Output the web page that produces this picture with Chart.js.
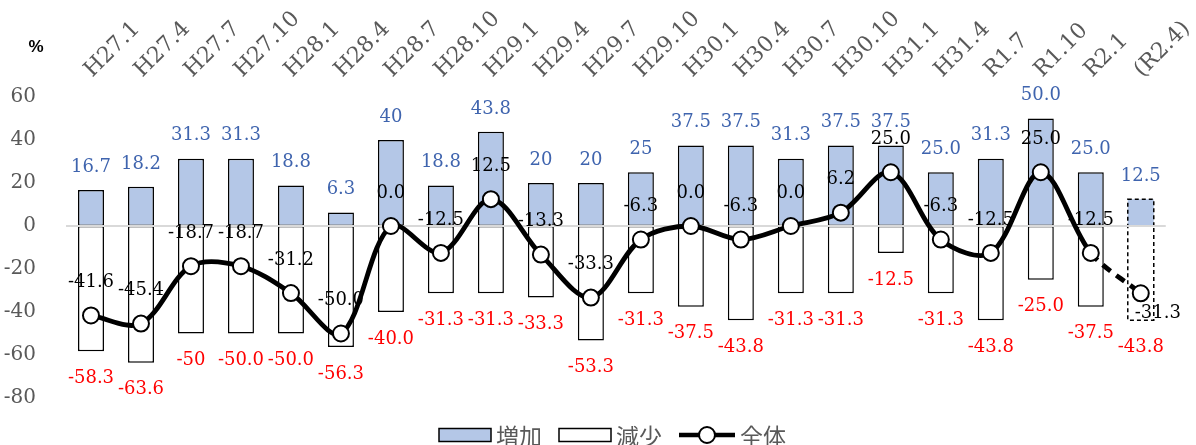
<!DOCTYPE html>
<html>
<head>
<meta charset="utf-8">
<script src="https://cdn.jsdelivr.net/npm/chart.js@4.4.0/dist/chart.umd.min.js"></script>
<style>
  html, body { margin: 0; padding: 0; background: #fff; }
  #wrap { width: 1196px; height: 445px; }
</style>
</head>
<body>
<div id="wrap"><canvas id="c" width="1196" height="445"></canvas></div>
<script>
// Survey periods (quarter of each year)
const periods = ['H27.1','H27.4','H27.7','H27.10','H28.1','H28.4','H28.7','H28.10','H29.1','H29.4','H29.7','H29.10',
                 'H30.1','H30.4','H30.7','H30.10','H31.1','H31.4','R1.7','R1.10','R2.1','(R2.4)'];

// Share of answers, as printed on each mark
const increaseText = ['16.7','18.2','31.3','31.3','18.8','6.3','40','18.8','43.8','20','20','25',
                      '37.5','37.5','31.3','37.5','37.5','25.0','31.3','50.0','25.0','12.5'];
const decreaseText = ['-58.3','-63.6','-50','-50.0','-50.0','-56.3','-40.0','-31.3','-31.3','-33.3','-53.3','-31.3',
                      '-37.5','-43.8','-31.3','-31.3','-12.5','-31.3','-43.8','-25.0','-37.5','-43.8'];
const totalText    = ['-41.6','-45.4','-18.7','-18.7','-31.2','-50.0','0.0','-12.5','12.5','-13.3','-33.3','-6.3',
                      '0.0','-6.3','0.0','6.2','25.0','-6.3','-12.5','25.0','-12.5','-31.3'];

const increase = increaseText.map(Number);
const decrease = decreaseText.map(Number);
const total    = totalText.map(Number);

// Value axis range
const yMin = -80, yMax = 60, yStep = 20;

const seriesNames = ['増加', '減少', '全体'];
const forecastIndex = periods.length - 1;   // last period is a forecast

const SERIF = '"DejaVu Serif", "Liberation Serif", serif';
const INC_FILL = '#B4C7E7';

// Zero line sits above the bars but below the total line
const zeroLinePlugin = {
  id: 'zeroLine',
  beforeDatasetDraw(chart, args) {
    if (args.meta.type !== 'line') return;
    const { ctx, chartArea } = chart;
    const y0 = chart.scales.y.getPixelForValue(0);
    ctx.save();
    ctx.strokeStyle = '#D9D9D9';
    ctx.lineWidth = 2;
    ctx.beginPath();
    ctx.moveTo(chartArea.left, y0);
    ctx.lineTo(chartArea.right, y0);
    ctx.stroke();
    ctx.restore();
  }
};

// Forecast bars get a dashed outline
const dashedBarPlugin = {
  id: 'dashedBar',
  afterDatasetDraw(chart, args) {
    const meta = args.meta;
    if (meta.type !== 'bar') return;
    const el = meta.data[forecastIndex];
    if (!el) return;
    const { x, y, base, width } = el.getProps(['x', 'y', 'base', 'width'], true);
    const ctx = chart.ctx;
    ctx.save();
    ctx.strokeStyle = '#000';
    ctx.lineWidth = 1.5;
    ctx.setLineDash([4, 3]);
    const top = Math.min(y, base), h = Math.abs(base - y);
    ctx.strokeRect(x - width / 2, top, width, h);
    ctx.restore();
  }
};

// Value labels on bars and points
const valueLabelPlugin = {
  id: 'valueLabels',
  afterDatasetsDraw(chart) {
    const ctx = chart.ctx;
    ctx.save();
    ctx.font = '18px ' + SERIF;
    ctx.textAlign = 'center';
    ctx.textBaseline = 'middle';

    ctx.fillStyle = '#3F64AE';
    chart.getDatasetMeta(0).data.forEach((el, i) => ctx.fillText(increaseText[i], el.x, el.y - 23));

    ctx.fillStyle = '#FF0000';
    chart.getDatasetMeta(1).data.forEach((el, i) => ctx.fillText(decreaseText[i], el.x, el.y + 27));

    ctx.fillStyle = '#000';
    chart.getDatasetMeta(2).data.forEach((el, i) => {
      if (i === forecastIndex) ctx.fillText(totalText[i], el.x + 17, el.y + 20);
      else ctx.fillText(totalText[i], el.x, el.y - 33);
    });
    ctx.restore();
  }
};

// Unit label and legend row
const decorPlugin = {
  id: 'decor',
  afterDraw(chart) {
    const ctx = chart.ctx;
    ctx.save();
    ctx.fillStyle = '#000';
    ctx.font = 'bold 17px "Liberation Sans", Arial, sans-serif';
    ctx.textAlign = 'center';
    ctx.textBaseline = 'middle';
    ctx.fillText('%', 36, 47);

    const cy = 435;
    ctx.font = '23px "Noto Sans CJK JP", sans-serif';
    ctx.textAlign = 'left';
    let x = 439;
    const items = [
      { kind: 'box', fill: INC_FILL },
      { kind: 'box', fill: '#FFFFFF' },
      { kind: 'line' }
    ];
    items.forEach((it, i) => {
      let w;
      if (it.kind === 'box') {
        w = 52;
        ctx.fillStyle = it.fill;
        ctx.fillRect(x, cy - 6.5, w, 13);
        ctx.strokeStyle = '#000';
        ctx.lineWidth = 1.5;
        ctx.strokeRect(x, cy - 6.5, w, 13);
      } else {
        w = 56;
        ctx.strokeStyle = '#000';
        ctx.lineWidth = 4.5;
        ctx.beginPath(); ctx.moveTo(x, cy); ctx.lineTo(x + w, cy); ctx.stroke();
        ctx.beginPath(); ctx.arc(x + w / 2, cy, 8, 0, Math.PI * 2);
        ctx.fillStyle = '#fff'; ctx.fill();
        ctx.lineWidth = 2; ctx.stroke();
      }
      x += w + 5;
      ctx.fillStyle = '#595959';
      ctx.fillText(seriesNames[i], x, cy + 1);
      x += ctx.measureText(seriesNames[i]).width + 17;
    });
    ctx.restore();
  }
};

new Chart(document.getElementById('c'), {
  data: {
    labels: periods,
    datasets: [
      {
        type: 'bar', label: seriesNames[0], data: increase, order: 1,
        backgroundColor: INC_FILL, borderColor: '#000',
        borderWidth: ctx => ctx.dataIndex === forecastIndex ? 0 : 1.5,
        borderSkipped: false, barPercentage: 0.52, categoryPercentage: 1.0
      },
      {
        type: 'bar', label: seriesNames[1], data: decrease, order: 1,
        backgroundColor: '#FFFFFF', borderColor: '#000',
        borderWidth: ctx => ctx.dataIndex === forecastIndex ? 0 : 1.5,
        borderSkipped: false, barPercentage: 0.52, categoryPercentage: 1.0
      },
      {
        type: 'line', label: seriesNames[2], data: total, order: 0,
        borderColor: '#000', borderWidth: 4.8, tension: 0.33,
        pointRadius: 8, pointBorderWidth: 2,
        pointBackgroundColor: '#fff', pointBorderColor: '#000',
        segment: { borderDash: ctx => ctx.p1DataIndex === forecastIndex ? [10, 7] : undefined }
      }
    ]
  },
  options: {
    responsive: false,
    animation: false,
    devicePixelRatio: 1,
    layout: { padding: { left: 0, right: 28, top: 0, bottom: 47 } },
    scales: {
      x: {
        position: 'top', stacked: true, offset: true,
        grid: { display: false }, border: { display: false },
        ticks: {
          color: '#595959', font: { family: SERIF, size: 22 },
          minRotation: 45, maxRotation: 45, autoSkip: false, padding: 6, labelOffset: 16
        },
        afterFit(s) { s.height = 97; }
      },
      y: {
        min: yMin, max: yMax,
        border: { display: false },
        grid: { display: false },
        ticks: { stepSize: yStep, color: '#595959', font: { family: SERIF, size: 20 }, padding: 22 },
        afterFit(s) { s.width = 66; }
      }
    },
    plugins: {
      tooltip: { enabled: false },
      legend: { display: false }
    }
  },
  plugins: [zeroLinePlugin, dashedBarPlugin, valueLabelPlugin, decorPlugin]
});
</script>
</body>
</html>
